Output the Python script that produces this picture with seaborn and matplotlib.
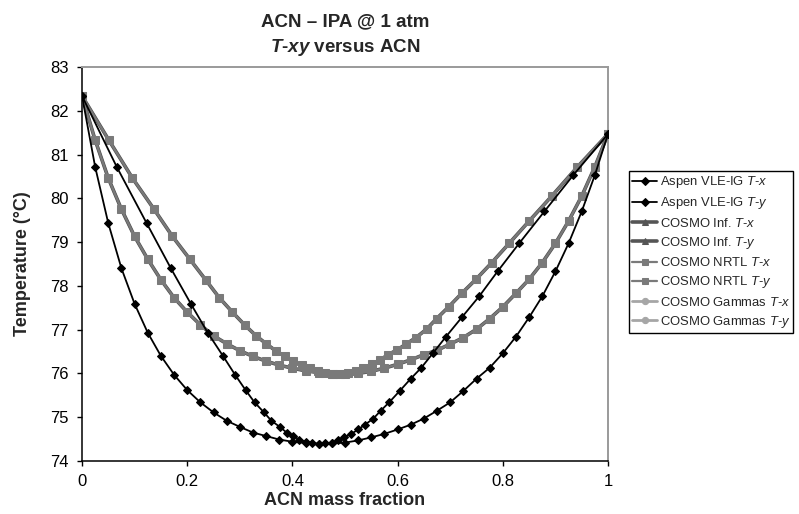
import matplotlib
matplotlib.use('Agg')
import matplotlib.pyplot as plt
import seaborn as sns

# liquid ACN mass fraction used for every model
x_liq = [0, 0.025, 0.05, 0.075, 0.1, 0.125, 0.15, 0.175, 0.2, 0.225,
         0.25, 0.275, 0.3, 0.325, 0.35, 0.375, 0.4, 0.425, 0.45, 0.475,
         0.5, 0.525, 0.55, 0.575, 0.6, 0.625, 0.65, 0.675, 0.7, 0.725,
         0.75, 0.775, 0.8, 0.825, 0.85, 0.875, 0.9, 0.925, 0.95, 0.975, 1]

# Aspen VLE-IG: temperature and vapour fraction
aspen_T = [82.34, 80.72, 79.43, 78.40, 77.59, 76.93, 76.40, 75.97, 75.62, 75.34,
           75.11, 74.92, 74.78, 74.65, 74.57, 74.49, 74.44, 74.41, 74.39, 74.40,
           74.42, 74.47, 74.54, 74.62, 74.72, 74.83, 74.97, 75.15, 75.34, 75.60,
           75.88, 76.13, 76.46, 76.84, 77.28, 77.76, 78.33, 78.97, 79.70, 80.53, 81.47]
aspen_y = [0, 0.066, 0.123, 0.169, 0.207, 0.239, 0.268, 0.291, 0.311, 0.328,
           0.346, 0.360, 0.376, 0.389, 0.402, 0.413, 0.425, 0.437, 0.450, 0.462,
           0.475, 0.487, 0.499, 0.512, 0.525, 0.538, 0.554, 0.568, 0.584, 0.604,
           0.625, 0.645, 0.667, 0.692, 0.722, 0.755, 0.790, 0.831, 0.879, 0.934, 1.0]

# COSMO models (Inf., NRTL and Gammas sit on top of each other)
cosmo_T = [82.34, 81.33, 80.46, 79.75, 79.13, 78.61, 78.14, 77.73, 77.40, 77.11,
           76.86, 76.68, 76.52, 76.39, 76.28, 76.19, 76.12, 76.06, 76.02, 75.99,
           75.98, 76.00, 76.05, 76.12, 76.21, 76.31, 76.43, 76.53, 76.67, 76.82,
           77.01, 77.25, 77.52, 77.83, 78.15, 78.53, 78.97, 79.48, 80.05, 80.72, 81.47]
cosmo_y = [0, 0.051, 0.096, 0.137, 0.172, 0.205, 0.235, 0.261, 0.286, 0.309,
           0.331, 0.350, 0.368, 0.386, 0.402, 0.418, 0.433, 0.448, 0.462, 0.477,
           0.491, 0.505, 0.520, 0.535, 0.551, 0.567, 0.582, 0.598, 0.616, 0.635,
           0.655, 0.674, 0.697, 0.722, 0.749, 0.779, 0.812, 0.850, 0.893, 0.942, 1.0]

x_ticks = [0, 0.2, 0.4, 0.6, 0.8, 1]
x_tick_labels = ['0', '0.2', '0.4', '0.6', '0.8', '1']
y_ticks = [74, 75, 76, 77, 78, 79, 80, 81, 82, 83]

sns.set_style('white')
plt.rcParams['font.family'] = ['Liberation Sans', 'DejaVu Sans']
plt.rcParams['mathtext.fontset'] = 'custom'
plt.rcParams['mathtext.rm'] = 'Liberation Sans'
plt.rcParams['mathtext.it'] = 'Liberation Sans:italic'
plt.rcParams['mathtext.bf'] = 'Liberation Sans:bold'
plt.rcParams['mathtext.bfit'] = 'Liberation Sans:bold:italic'

fig = plt.figure(figsize=(7.99, 5.14), dpi=100)
ax = fig.add_axes([82 / 799, 1 - 461 / 514, 526 / 799, 394 / 514])

# (label, xs, Ts, colour, marker, markersize, linewidth, zorder)
series = [
    ('COSMO Gammas $T$-$x$', x_liq, cosmo_T, '#a6a6a6', 'o', 5, 2.0, 2),
    ('COSMO Gammas $T$-$y$', cosmo_y, cosmo_T, '#a6a6a6', 'o', 5, 2.0, 2),
    ('COSMO Inf. $T$-$x$', x_liq, cosmo_T, '#555555', '^', 5, 2.6, 3),
    ('COSMO Inf. $T$-$y$', cosmo_y, cosmo_T, '#555555', '^', 5, 2.6, 3),
    ('COSMO NRTL $T$-$x$', x_liq, cosmo_T, '#7a7a7a', 's', 5.5, 1.6, 4),
    ('COSMO NRTL $T$-$y$', cosmo_y, cosmo_T, '#7a7a7a', 's', 5.5, 1.6, 4),
    ('Aspen VLE-IG $T$-$x$', x_liq, aspen_T, 'black', 'D', 4, 1.3, 5),
    ('Aspen VLE-IG $T$-$y$', aspen_y, aspen_T, 'black', 'D', 4, 1.3, 5),
]
for label, xs, ts, col, mk, ms, lw, z in series:
    sns.lineplot(x=xs, y=ts, ax=ax, sort=False, estimator=None, color=col,
                 marker=mk, markersize=ms, markeredgecolor=col, linewidth=lw,
                 label=label, zorder=z)

ax.set_xlim(0, 1)
ax.set_ylim(74, 83)
ax.set_xticks(x_ticks, x_tick_labels)
ax.set_yticks(y_ticks)
ax.tick_params(direction='out', length=3.5, width=1, labelsize=12, pad=6,
               bottom=True, left=True, colors='black')
for side in ['left', 'bottom']:
    ax.spines[side].set_color('black')
    ax.spines[side].set_linewidth(1.1)
for side in ['top', 'right']:
    ax.spines[side].set_color('#9a9a9a')
    ax.spines[side].set_linewidth(1.4)

ax.set_xlabel('ACN mass fraction', fontsize=13, fontweight='bold')
ax.set_ylabel('Temperature (°C)', fontsize=13, fontweight='bold')
ax.xaxis.set_label_coords(0.5, -0.078)
ax.yaxis.set_label_coords(-0.097, 0.5)

fig.text(345 / 799, 1 - 22 / 514, 'ACN – IPA @ 1 atm', fontsize=13.5,
         fontweight='bold', ha='center', va='center')
fig.text(345 / 799, 1 - 47 / 514, r'$\mathbfit{T}$-$\mathbfit{xy}$ versus ACN',
         fontsize=13.5, fontweight='bold', ha='center', va='center')

handles, labels = ax.get_legend_handles_labels()
order = ['Aspen VLE-IG $T$-$x$', 'Aspen VLE-IG $T$-$y$',
         'COSMO Inf. $T$-$x$', 'COSMO Inf. $T$-$y$',
         'COSMO NRTL $T$-$x$', 'COSMO NRTL $T$-$y$',
         'COSMO Gammas $T$-$x$', 'COSMO Gammas $T$-$y$']
lookup = dict(zip(labels, handles))
leg = ax.legend([lookup[l] for l in order], order, loc='upper left',
                bbox_to_anchor=(629 / 799, 1 - 171 / 514),
                bbox_transform=fig.transFigure, fontsize=9.4, frameon=True,
                fancybox=False, edgecolor='black', framealpha=1,
                borderaxespad=0, handlelength=1.9, handletextpad=0.2,
                labelspacing=0.4, borderpad=0.25, markerscale=0.9)
leg.get_frame().set_linewidth(1.0)

fig.savefig('out.png', dpi=100)
